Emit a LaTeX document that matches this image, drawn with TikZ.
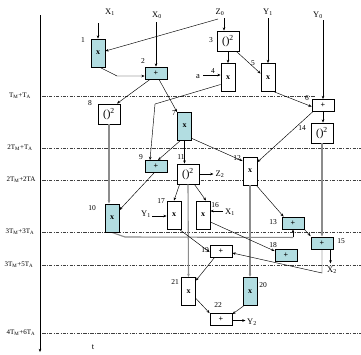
\documentclass[tikz,border=0pt]{standalone}
\usepackage{fontspec}
\setmainfont{Liberation Serif}
\usetikzlibrary{arrows.meta,calc}
\definecolor{boxfill}{RGB}{178,221,225}
\definecolor{linegray}{RGB}{140,140,140}
\begin{document}
\begin{tikzpicture}[x=1pt,y=-1pt,
  arr/.style={-{Stealth[length=3.2pt,width=2.6pt]}, line width=0.45pt},
  garr/.style={-{Stealth[length=3.2pt,width=2.6pt]}, line width=1.1pt, draw=linegray},
  gline/.style={line width=1.1pt, draw=linegray},
  tline/.style={line width=0.7pt, draw=black!75, dash pattern=on 3.5pt off 1.2pt on 1pt off 1.2pt},
  bx/.style={draw=black, line width=0.9pt, fill=white, inner sep=0pt, font=\fontsize{8}{8}\selectfont\bfseries},
  mulbox/.style={bx, minimum width=14pt, minimum height=28pt},
  addbox/.style={bx, minimum width=22pt, minimum height=12pt},
  sqbox/.style={bx, minimum width=22pt, minimum height=20pt, font=\fontsize{11}{11}\selectfont},
  teal/.style={fill=boxfill},
  lbl/.style={inner sep=0pt, font=\fontsize{7.5}{7.5}\selectfont},
  io/.style={inner sep=0pt, font=\fontsize{8.5}{8.5}\selectfont},
  tlab/.style={inner sep=0pt, font=\fontsize{7}{7}\selectfont}]
\useasboundingbox (0,0) rectangle (361,354);

% time axis
\coordinate (axtop) at (40,15);
\coordinate (axbot) at (40,352);
\draw[arr] (axtop) -- (axbot);
\node[io] (tt) at (93,347) {t};

% time lines
\coordinate (l1a) at (42,96);  \coordinate (l1b) at (315,96);
\coordinate (l2a) at (42,148); \coordinate (l2b) at (361,148);
\coordinate (l3a) at (42,180); \coordinate (l3b) at (361,180);
\coordinate (l4a) at (42,232); \coordinate (l4b) at (361,232);
\coordinate (l5a) at (42,265); \coordinate (l5b) at (361,265);
\coordinate (l6a) at (42,333); \coordinate (l6b) at (361,333);
\draw[tline] (l1a) -- (l1b);
\draw[tline] (l2a) -- (l2b);
\draw[tline] (l3a) -- (l3b);
\draw[tline] (l4a) -- (l4b);
\draw[tline] (l5a) -- (l5b);
\draw[tline] (l6a) -- (l6b);
\node[tlab] (t1) at (20,96) {T\textsubscript{M}+T\textsubscript{A}};
\node[tlab] (t2) at (20,148) {2T\textsubscript{M}+T\textsubscript{A}};
\node[tlab] (t3) at (21,180) {2T\textsubscript{M}+2TA};
\node[tlab] (t4) at (20,232) {3T\textsubscript{M}+3T\textsubscript{A}};
\node[tlab] (t5) at (19,265) {3T\textsubscript{M}+5T\textsubscript{A}};
\node[tlab] (t6) at (21,333) {4T\textsubscript{M}+6T\textsubscript{A}};

% boxes that gray lines attach to
\node[sqbox] (n8) at (109,114) {()\textsuperscript{2}};
\node[mulbox,teal] (n10) at (112,218) {x};
\node[mulbox,teal] (n7) at (184.5,126) {x};
\node[sqbox] (n11) at (188,174) {()\textsuperscript{2}};
\node[mulbox] (n12) at (250,171) {x};
\node[sqbox] (n14) at (322,133) {()\textsuperscript{2}};
\node[addbox,teal] (n15) at (322,243) {+};
\node[addbox,teal] (n13) at (293,223) {+};
\node[mulbox,teal] (n20) at (250,291.5) {x};
\node[mulbox] (n21) at (188.5,291.5) {x};

\draw[garr] ($(n8.south)$) -- ($(n10.north)+(-3,0)$);
\draw[garr] ($(n11.south)$) -- ($(n21.north)$);
\draw[garr] ($(n12.south)$) -- ($(n20.north)$);
\draw[garr] ($(n14.south)$) -- ($(n15.north)$);
\coordinate (k1) at (125,237);
\draw[gline] ($(n10.south)$) -- (k1) -- ($(n13.south)+(0,8)$);
\draw[arr] ($(n13.south)+(0,8)$) -- (n13.south);

% boxes
\node[mulbox,teal] (n1) at (98,53) {x};
\node[addbox,teal] (n2) at (156,73) {+};
\node[sqbox] (n3) at (228,41) {()\textsuperscript{2}};
\node[mulbox] (n4) at (228,77.5) {x};
\node[mulbox] (n5) at (268,77.5) {x};
\node[addbox] (n6) at (323,105.5) {+};
\node[addbox,teal] (n9) at (156,166.5) {+};
\node[mulbox] (n17) at (174,215) {x};
\node[mulbox] (n16) at (203,215) {x};
\node[addbox,teal] (n18) at (286,255) {+};
\node[addbox] (n19) at (221,251) {+};
\node[addbox] (n22) at (221,319.5) {+};

% redraw boxes on top of gray lines
\node[mulbox,teal] (n10b) at (n10) {x};
\node[mulbox] (n21b) at (n21) {x};
\node[mulbox,teal] (n20b) at (n20) {x};
\node[addbox,teal] (n15b) at (n15) {+};
\node[addbox,teal] (n13b) at (n13) {+};

% labels
\node[lbl] (c1) at (83,40) {1};
\node[lbl] (c2) at (143,61) {2};
\node[lbl] (c3) at (211,40) {3};
\node[lbl] (c4) at (213,71) {4};
\node[lbl] (c5) at (253,63) {5};
\node[lbl] (c6) at (307,98) {6};
\node[lbl] (c7) at (174,113) {7};
\node[lbl] (c8) at (90,103) {8};
\node[lbl] (c9) at (141,157) {9};
\node[lbl] (c10) at (92,208) {10};
\node[lbl] (c11) at (181,157) {11};
\node[lbl] (c12) at (237,158) {12};
\node[lbl] (c13) at (273,222) {13};
\node[lbl] (c14) at (302,128) {14};
\node[lbl] (c15) at (341,241) {15};
\node[lbl] (c16) at (215,205) {16};
\node[lbl] (c17) at (161,201) {17};
\node[lbl] (c18) at (273,245) {18};
\node[lbl] (c19) at (205,250) {19};
\node[lbl] (c20) at (263,285) {20};
\node[lbl] (c21) at (175,282) {21};
\node[lbl] (c22) at (218,305) {22};

% inputs / outputs
\node[io] (X1) at (110,12) {X\textsubscript{1}};
\node[io] (X0) at (157,15) {X\textsubscript{0}};
\node[io] (Z0) at (220,12) {Z\textsubscript{0}};
\node[io] (Y1) at (268,12) {Y\textsubscript{1}};
\node[io] (Y0) at (318,15) {Y\textsubscript{0}};
\node[io] (a) at (198,77) {a};
\node[io] (Z2) at (220,174) {Z\textsubscript{2}};
\node[io] (Y1b) at (146,214) {Y\textsubscript{1}};
\node[io] (X1b) at (230,212) {X\textsubscript{1}};
\node[io] (X2) at (332,270) {X\textsubscript{2}};
\node[io] (Y2) at (252,322) {Y\textsubscript{2}};

\coordinate (sx1) at (98,23);
\coordinate (sx0) at (156,22);
\coordinate (sz0) at (224,18);
\coordinate (sz1) at (218,19);
\coordinate (sy1) at (268,18);
\coordinate (sy0) at (323,20);
\coordinate (sa) at (203,75);
\coordinate (sy1b) at (152,216);
\coordinate (sx1b) at (223,211);

% connectors
\draw[arr] (sx1) -- (n1.north);
\draw[arr] (sx0) -- (n2.north);
\draw[arr] (sz0) -- (sz0 |- n3.north);
\draw[arr] (sz1) -- ($(n1.east)+(0,-2)$);
\coordinate (k2) at (117,76);
\draw[arr] ($(n1.south)+(2,0)$) -- (k2) -- (k2 -| n2.west);
\draw[arr] (sa) -- (sa -| n4.west);
\draw[arr] (n3.south) -- (n4.north);
\draw[arr] ($(n3.south east)+(-3,0)$) -- ($(n5.west)+(0,-4)$);
\draw[arr] (sy1) -- (n5.north);
\coordinate (k3) at (155,104);
\draw[arr] ($(n4.west)+(0,7)$) -- (k3) -- ($(n9.north)+(-6,0)$);
\draw[arr] ($(n2.south)+(3,0)$) -- ($(n7.north west)+(0,0.5)$);
\draw[arr] ($(n2.south)+(-6,0)$) -- ($(n8.north)+(8,0)$);
\draw[arr] ($(n5.south east)+(-1,0)$) -- ($(n6.west)+(0,1)$);
\draw[arr] (sy0) -- (n6.north);
\draw[arr] (n6.south) -- (n6.south |- n14.north);
\draw[arr] ($(n6.south west)+(1,0)$) -- ($(n12.east)+(0,-9)$);
\draw[arr] ($(n7.south)+(-4,0)$) -- ($(n9.north)+(2,0)$);
\draw[arr] (n7.south) -- (n7.south |- n11.north);
\draw[arr] ($(n7.south east)+(0,-2)$) -- ($(n12.west)+(0,-10)$);
\draw[arr] ($(n9.south)+(-2,0)$) -- ($(n10.east)+(0,-8)$);
\draw[arr] (n11.east) -- ($(n11.east)+(14,0)$);
\draw[arr] ($(n11.south west)+(3,0)$) -- ($(n17.north)$);
\draw[arr] ($(n11.south east)+(-5,0)$) -- ($(n16.north)+(3,0)$);
\draw[arr] ($(n12.south east)+(-1,0)$) -- ($(n13.north west)+(2,0)$);
\draw[arr] ($(n13.south east)$) -- ($(n15.north west)+(0,-0.5)$);
\draw[arr] (sy1b) -- (sy1b -| n17.west);
\draw[arr] (sx1b) -- (sx1b -| n16.east);
\draw[arr] ($(n16.east)+(0,7)$) -- ($(n18.west)+(0,-4)$);
\draw[arr] ($(n17.south east)+(-2,0)$) -- ($(n19.west)+(0,1)$);
\coordinate (k4) at (322,273);
\draw[arr] (n15.south) -- (k4) -- ($(n19.east)+(0,2)$);
\draw[arr] ($(n15.south east)+(-3,0)$) -- ($(n15.south east)+(-3,14)$);
\draw[arr] ($(n19.south west)+(5,0)$) -- ($(n21.east)+(0,-11)$);
\draw[arr] ($(n21.east)+(0,7)$) -- (n22.north west);
\draw[arr] ($(n20.south west)+(1,0)$) -- ($(n22.north east)+(0,1)$);
\draw[arr] ($(n22.east)+(0,1)$) -- ($(n22.east)+(13,1)$);
\end{tikzpicture}
\end{document}
